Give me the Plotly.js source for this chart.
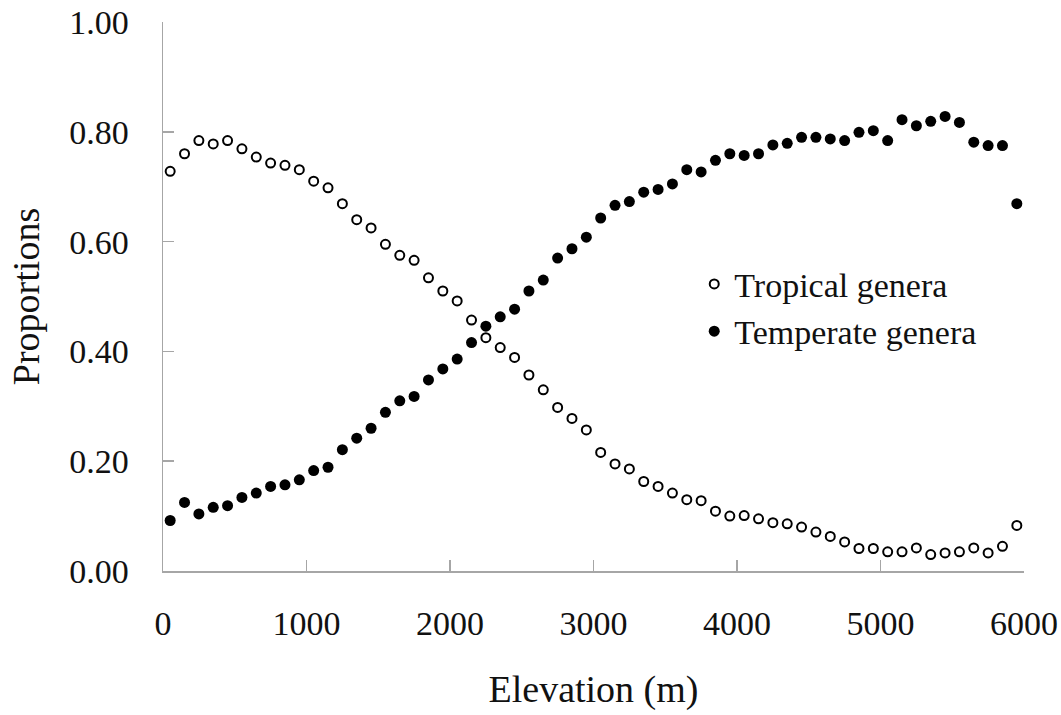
<!DOCTYPE html>
<html>
<head>
<meta charset="utf-8">
<script src="https://cdn.plot.ly/plotly-3.0.1.min.js"></script>
<style>
  html, body { margin: 0; padding: 0; background: #ffffff; }
  #chart { width: 1061px; height: 715px; }
</style>
</head>
<body>
<div id="chart"></div>
<script>
const elevation = [50, 150, 250, 350, 450, 550, 650, 750, 850, 950,
  1050, 1150, 1250, 1350, 1450, 1550, 1650, 1750, 1850, 1950,
  2050, 2150, 2250, 2350, 2450, 2550, 2650, 2750, 2850, 2950,
  3050, 3150, 3250, 3350, 3450, 3550, 3650, 3750, 3850, 3950,
  4050, 4150, 4250, 4350, 4450, 4550, 4650, 4750, 4850, 4950,
  5050, 5150, 5250, 5350, 5450, 5550, 5650, 5750, 5850, 5950];

const tropical = [0.728, 0.760, 0.784, 0.778, 0.784, 0.769, 0.754, 0.743, 0.739, 0.731,
  0.710, 0.698, 0.669, 0.640, 0.625, 0.595, 0.575, 0.566, 0.534, 0.510,
  0.492, 0.457, 0.425, 0.407, 0.389, 0.357, 0.330, 0.298, 0.278, 0.257,
  0.216, 0.195, 0.186, 0.163, 0.154, 0.142, 0.130, 0.128, 0.109, 0.100,
  0.101, 0.095, 0.088, 0.086, 0.080, 0.071, 0.063, 0.053, 0.041, 0.041,
  0.035, 0.035, 0.042, 0.030, 0.033, 0.035, 0.042, 0.033, 0.045, 0.083];

const temperate = [0.092, 0.125, 0.104, 0.116, 0.119, 0.134, 0.142, 0.154, 0.157, 0.166,
  0.183, 0.189, 0.221, 0.242, 0.260, 0.289, 0.310, 0.318, 0.348, 0.368,
  0.386, 0.416, 0.446, 0.463, 0.477, 0.510, 0.530, 0.570, 0.587, 0.608,
  0.643, 0.666, 0.673, 0.690, 0.695, 0.705, 0.731, 0.727, 0.748, 0.760,
  0.757, 0.760, 0.776, 0.779, 0.790, 0.790, 0.787, 0.784, 0.799, 0.802,
  0.784, 0.822, 0.811, 0.819, 0.828, 0.817, 0.781, 0.775, 0.775, 0.669];

const seriesNames = ["Tropical genera", "Temperate genera"];
const xTicks = [0, 1000, 2000, 3000, 4000, 5000, 6000];
const yTicks = [0, 0.2, 0.4, 0.6, 0.8, 1.0];

const FONT = "'Liberation Serif', 'Times New Roman', serif";
const AXIS_COLOR = "#a6a6a6";

const traces = [
  {
    x: elevation, y: tropical, name: seriesNames[0],
    type: "scatter", mode: "markers",
    marker: { symbol: "circle-open", size: 9, color: "#000000", line: { width: 2, color: "#000000" } }
  },
  {
    x: elevation, y: temperate, name: seriesNames[1],
    type: "scatter", mode: "markers",
    marker: { symbol: "circle", size: 11, color: "#000000" }
  }
];

const layout = {
  width: 1061, height: 715,
  paper_bgcolor: "#ffffff", plot_bgcolor: "#ffffff",
  font: { family: FONT, color: "#111111", size: 34 },
  margin: { l: 163, r: 37, t: 22, b: 144, pad: 0 },
  showlegend: true,
  legend: {
    x: 0.617, y: 0.575, xanchor: "left", yanchor: "top",
    bgcolor: "rgba(255,255,255,0)", borderwidth: 0,
    font: { family: FONT, size: 34, color: "#111111" },
    tracegroupgap: 0, itemwidth: 30
  },
  xaxis: {
    range: [0, 6000],
    tickvals: xTicks,
    ticktext: xTicks.map(String),
    showline: true, linecolor: AXIS_COLOR, linewidth: 1.5,
    ticks: "inside", ticklen: 11, tickwidth: 1.5, tickcolor: AXIS_COLOR,
    showgrid: false, zeroline: false,
    tickfont: { family: FONT, size: 34, color: "#111111" },
    ticklabelstandoff: 22,
    title: { text: "Elevation (m)", font: { family: FONT, size: 38, color: "#111111" }, standoff: 34 }
  },
  yaxis: {
    range: [0, 1],
    tickvals: yTicks,
    tickformat: ".2f",
    showline: true, linecolor: AXIS_COLOR, linewidth: 1.5,
    ticks: "inside", ticklen: 11, tickwidth: 1.5, tickcolor: AXIS_COLOR,
    showgrid: false, zeroline: false,
    tickfont: { family: FONT, size: 34, color: "#111111" },
    ticklabelstandoff: 26,
    title: { text: "Proportions", font: { family: FONT, size: 38, color: "#111111" }, standoff: 18 }
  }
};

Plotly.newPlot("chart", traces, layout, { displayModeBar: false, staticPlot: true });
</script>
</body>
</html>
